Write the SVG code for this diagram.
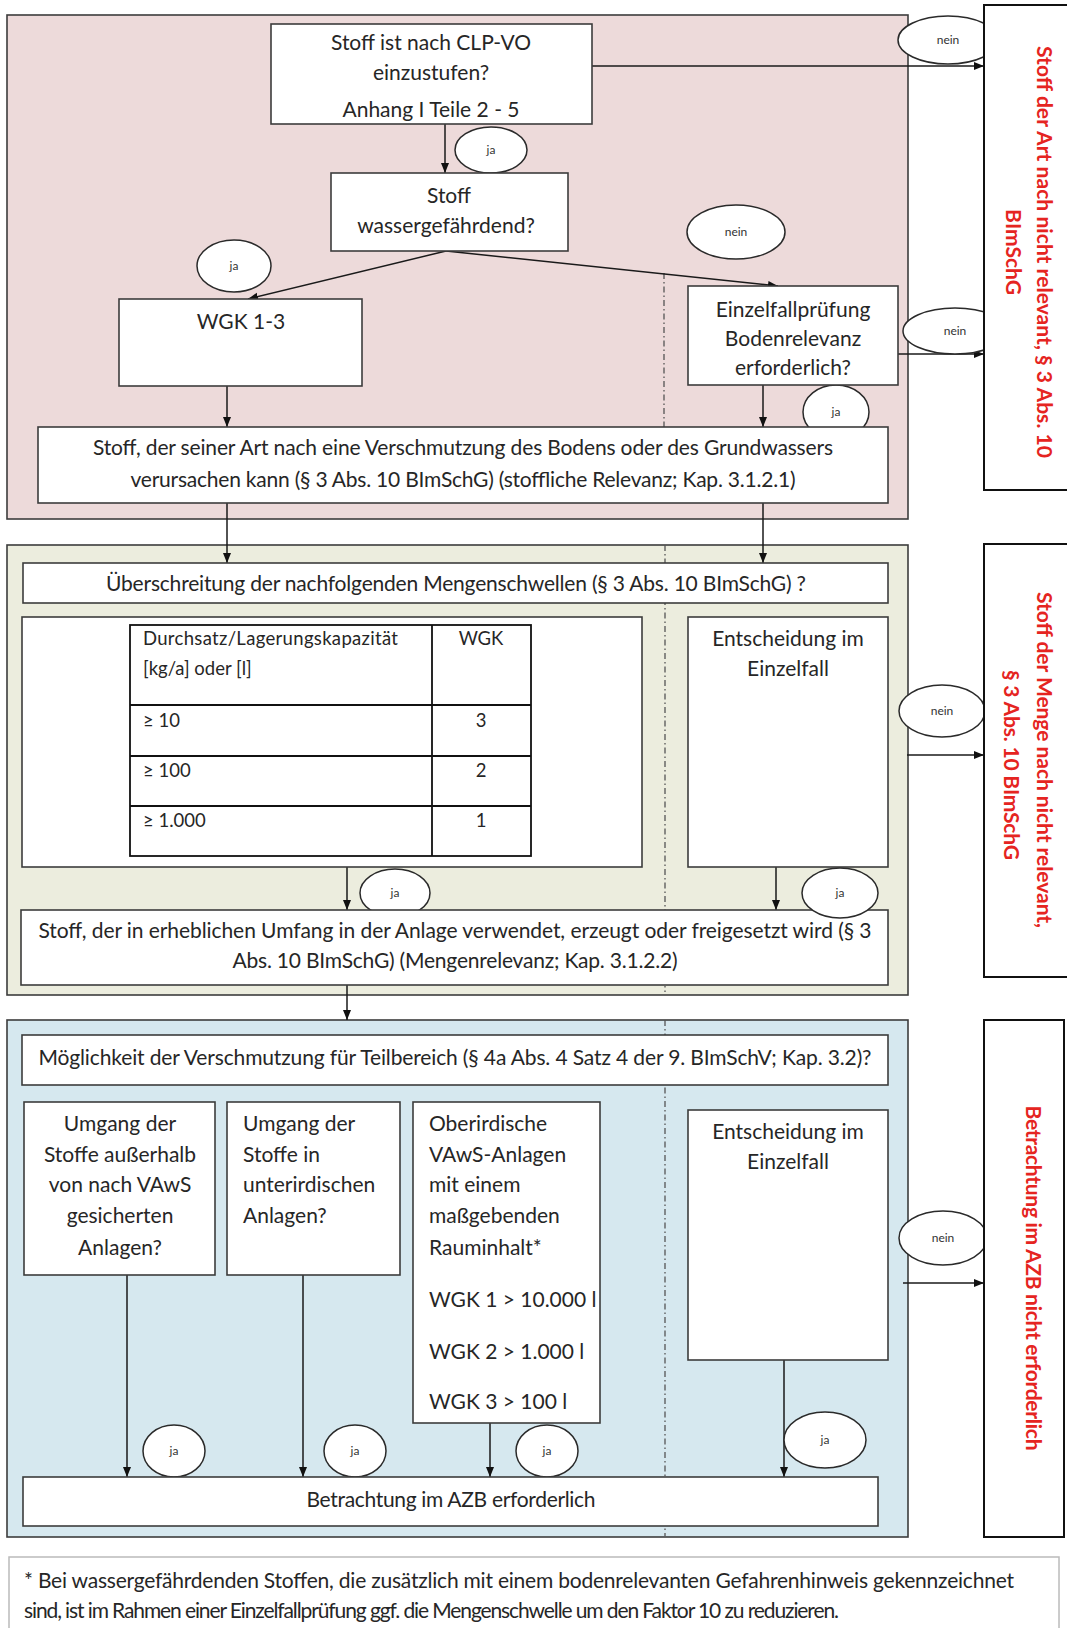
<svg xmlns="http://www.w3.org/2000/svg" width="1067" height="1628" viewBox="0 0 1067 1628">
<style>
.sec{stroke:#3c3c3c;stroke-width:1.6}
.box{fill:#fff;stroke:#3c3c3c;stroke-width:1.6}
.tbl{fill:#fff;stroke:#111;stroke-width:1.8}
.panel{fill:#fff;stroke:#111;stroke-width:2}
.t{font-family:Lato,"Liberation Sans",sans-serif;font-size:21px;fill:#262626}
.c{text-anchor:middle}
.ts{font-size:18.5px}
.lbl{font-family:Lato,"Liberation Sans",sans-serif;font-size:12px;fill:#333;text-anchor:middle}
.ell{fill:#fff;stroke:#2a2a2a;stroke-width:1.5}
.red{font-family:Lato,"Liberation Sans",sans-serif;font-weight:bold;font-size:21px;fill:#e52421;text-anchor:middle}
.con{stroke:#1a1a1a;stroke-width:1.5;fill:none;marker-end:url(#ah)}
.dash{stroke:#555;stroke-width:1.3;stroke-dasharray:6 3 1.5 3;fill:none}
</style>
<defs>
<marker id="ah" viewBox="0 0 10 10" refX="10" refY="5" markerWidth="10" markerHeight="10" orient="auto" markerUnits="userSpaceOnUse">
<path d="M0,1 L10,5 L0,9 z" fill="#111"/>
</marker>
</defs>
<rect width="1067" height="1628" fill="#fff"/>

<g id="sections">
<rect id="sec-art" class="sec" x="7" y="15" width="901" height="504" fill="#eddada"/>
<rect id="sec-menge" class="sec" x="7" y="545" width="901" height="450" fill="#ecedde"/>
<rect id="sec-azb" class="sec" x="7" y="1020" width="901" height="517" fill="#d6e8ef"/>
<line class="dash" x1="664" y1="273" x2="664" y2="427"/>
<line class="dash" x1="665" y1="545" x2="665" y2="992"/>
<line class="dash" x1="665" y1="1020" x2="665" y2="1536"/>
</g>

<g id="connectors">
<path class="con" d="M445,124 L445,173"/>
<path class="con" d="M592,66 L984,66"/>
<path class="con" d="M446,251 L248,299"/>
<path class="con" d="M446,251 L778,286"/>
<path class="con" d="M898,354 L984,354"/>
<path class="con" d="M227,386 L227,427"/>
<path class="con" d="M763,385 L763,427"/>
<path class="con" d="M227,503 L227,563"/>
<path class="con" d="M763,503 L763,563"/>
<path class="con" d="M347,867 L347,910"/>
<path class="con" d="M776,867 L776,910"/>
<path class="con" d="M907,755 L984,755"/>
<path class="con" d="M347,985 L347,1020"/>
<path class="con" d="M903,1283 L984,1283"/>
<path class="con" d="M127,1275 L127,1477"/>
<path class="con" d="M303,1275 L303,1477"/>
<path class="con" d="M490,1423 L490,1477"/>
<path class="con" d="M784,1360 L784,1477"/>
</g>

<g id="labels">
<g id="l1"><ellipse class="ell" cx="948" cy="40" rx="50" ry="24"/><text class="lbl" x="948" y="44">nein</text></g>
<g id="l2"><ellipse class="ell" cx="491" cy="150" rx="36" ry="23"/><text class="lbl" x="491" y="154">ja</text></g>
<g id="l3"><ellipse class="ell" cx="234" cy="266" rx="37" ry="26"/><text class="lbl" x="234" y="270">ja</text></g>
<g id="l4"><ellipse class="ell" cx="736" cy="232" rx="49" ry="27"/><text class="lbl" x="736" y="236">nein</text></g>
<g id="l5"><ellipse class="ell" cx="955" cy="331" rx="52" ry="23"/><text class="lbl" x="955" y="335">nein</text></g>
<g id="l6"><ellipse class="ell" cx="836" cy="412" rx="33" ry="27"/><text class="lbl" x="836" y="416">ja</text></g>
<g id="l7"><ellipse class="ell" cx="942" cy="711" rx="43" ry="26"/><text class="lbl" x="942" y="715">nein</text></g>
<g id="l8"><ellipse class="ell" cx="395" cy="893" rx="35" ry="24"/><text class="lbl" x="395" y="897">ja</text></g>
<g id="l10"><ellipse class="ell" cx="943" cy="1238" rx="44" ry="27"/><text class="lbl" x="943" y="1242">nein</text></g>
<g id="l11"><ellipse class="ell" cx="174" cy="1451" rx="31" ry="26"/><text class="lbl" x="174" y="1455">ja</text></g>
<g id="l12"><ellipse class="ell" cx="355" cy="1451" rx="31" ry="26"/><text class="lbl" x="355" y="1455">ja</text></g>
<g id="l13"><ellipse class="ell" cx="547" cy="1451" rx="31" ry="26"/><text class="lbl" x="547" y="1455">ja</text></g>
<g id="l14"><ellipse class="ell" cx="825" cy="1440" rx="41" ry="28"/><text class="lbl" x="825" y="1444">ja</text></g>
</g>

<g id="n-clp">
<rect class="box" x="271" y="24" width="321" height="100"/>
<text class="t c" x="431" y="50">Stoff ist nach CLP-VO</text>
<text class="t c" x="431" y="80">einzustufen?</text>
<text class="t c" x="431" y="117">Anhang I Teile 2 - 5</text>
</g>
<g id="n-wasser">
<rect class="box" x="331" y="173" width="237" height="78"/>
<text class="t c" x="449" y="203">Stoff</text>
<text class="t c" x="446" y="233">wassergefährdend?</text>
</g>
<g id="n-wgk">
<rect class="box" x="119" y="299" width="243" height="87"/>
<text class="t c" x="241" y="329">WGK 1-3</text>
</g>
<g id="n-einzel1">
<rect class="box" x="688" y="286" width="210" height="99"/>
<text class="t c" x="793" y="317">Einzelfallprüfung</text>
<text class="t c" x="793" y="346">Bodenrelevanz</text>
<text class="t c" x="793" y="375">erforderlich?</text>
</g>
<g id="n-art">
<rect class="box" x="38" y="427" width="850" height="76"/>
<text class="t c" x="463" y="455" textLength="740">Stoff, der seiner Art nach eine Verschmutzung des Bodens oder des Grundwassers</text>
<text class="t c" x="463" y="487" textLength="665">verursachen kann (§ 3 Abs. 10 BImSchG) (stoffliche Relevanz; Kap. 3.1.2.1)</text>
</g>

<g id="n-ueber">
<rect class="box" x="23" y="563" width="865" height="40"/>
<text class="t c" x="456" y="591" textLength="700">Überschreitung der nachfolgenden Mengenschwellen (§ 3 Abs. 10 BImSchG) ?</text>
</g>
<g id="n-tabelle">
<rect class="box" x="22" y="617" width="620" height="250"/>
<rect class="tbl" x="130" y="625" width="401" height="231"/>
<path d="M432,625 V856 M130,705 H531 M130,756 H531 M130,806 H531" stroke="#111" stroke-width="1.8" fill="none"/>
<text class="t ts" x="143" y="645" textLength="255">Durchsatz/Lagerungskapazität</text>
<text class="t ts" x="143" y="675">[kg/a] oder [l]</text>
<text class="t ts c" x="481" y="645">WGK</text>
<text class="t ts" x="143" y="727">≥ 10</text>
<text class="t ts c" x="481" y="727">3</text>
<text class="t ts" x="143" y="777">≥ 100</text>
<text class="t ts c" x="481" y="777">2</text>
<text class="t ts" x="143" y="827">≥ 1.000</text>
<text class="t ts c" x="481" y="827">1</text>
</g>
<g id="n-einzel2">
<rect class="box" x="688" y="617" width="200" height="250"/>
<text class="t c" x="788" y="646">Entscheidung im</text>
<text class="t c" x="788" y="676">Einzelfall</text>
</g>
<g id="n-menge">
<rect class="box" x="21" y="910" width="867" height="75"/>
<text class="t c" x="455" y="938" textLength="833">Stoff, der in erheblichen Umfang in der Anlage verwendet, erzeugt oder freigesetzt wird (§ 3</text>
<text class="t c" x="455" y="968" textLength="445">Abs. 10 BImSchG) (Mengenrelevanz; Kap. 3.1.2.2)</text>
</g>
<g id="l9"><ellipse class="ell" cx="840" cy="893" rx="38" ry="25"/><text class="lbl" x="840" y="897">ja</text></g>

<g id="n-moegl">
<rect class="box" x="22" y="1035" width="866" height="50"/>
<text class="t c" x="455" y="1065" textLength="833">Möglichkeit der Verschmutzung für Teilbereich (§ 4a Abs. 4 Satz 4 der 9. BImSchV; Kap. 3.2)?</text>
</g>
<g id="n-ausserhalb">
<rect class="box" x="24" y="1102" width="191" height="173"/>
<text class="t c" x="120" y="1131">Umgang der</text>
<text class="t c" x="120" y="1162">Stoffe außerhalb</text>
<text class="t c" x="120" y="1192">von nach VAwS</text>
<text class="t c" x="120" y="1223">gesicherten</text>
<text class="t c" x="120" y="1255">Anlagen?</text>
</g>
<g id="n-unterirdisch">
<rect class="box" x="227" y="1102" width="173" height="173"/>
<text class="t" x="243" y="1131">Umgang der</text>
<text class="t" x="243" y="1162">Stoffe in</text>
<text class="t" x="243" y="1192">unterirdischen</text>
<text class="t" x="243" y="1223">Anlagen?</text>
</g>
<g id="n-oberirdisch">
<rect class="box" x="413" y="1102" width="187" height="321"/>
<text class="t" x="429" y="1131">Oberirdische</text>
<text class="t" x="429" y="1162">VAwS-Anlagen</text>
<text class="t" x="429" y="1192">mit einem</text>
<text class="t" x="429" y="1223">maßgebenden</text>
<text class="t" x="429" y="1255">Rauminhalt*</text>
<text class="t" x="429" y="1307">WGK 1 &gt; 10.000 l</text>
<text class="t" x="429" y="1359">WGK 2 &gt; 1.000 l</text>
<text class="t" x="429" y="1409">WGK 3 &gt; 100 l</text>
</g>
<g id="n-einzel3">
<rect class="box" x="688" y="1110" width="200" height="250"/>
<text class="t c" x="788" y="1139">Entscheidung im</text>
<text class="t c" x="788" y="1169">Einzelfall</text>
</g>
<g id="n-azb">
<rect class="box" x="23" y="1477" width="855" height="49"/>
<text class="t c" x="451" y="1507" textLength="289">Betrachtung im AZB erforderlich</text>
</g>

<g id="p-art">
<rect class="panel" x="984" y="5" width="100" height="485"/>
<text class="red" transform="translate(1037,252) rotate(90)" textLength="412">Stoff der Art nach nicht relevant, § 3 Abs. 10</text>
<text class="red" transform="translate(1006,252) rotate(90)">BImSchG</text>
</g>
<g id="p-menge">
<rect class="panel" x="984" y="544" width="100" height="433"/>
<text class="red" transform="translate(1037,760) rotate(90)" textLength="336">Stoff der Menge nach nicht relevant,</text>
<text class="red" transform="translate(1004,765) rotate(90)" textLength="190">§ 3 Abs. 10 BImSchG</text>
</g>
<g id="p-azb">
<rect class="panel" x="984" y="1020" width="80" height="517"/>
<text class="red" transform="translate(1026,1278) rotate(90)" textLength="345">Betrachtung im AZB nicht erforderlich</text>
</g>

<g id="footnote">
<rect x="9" y="1557" width="1050" height="90" fill="#fff" stroke="#bbb" stroke-width="1.5"/>
<text class="t" x="24" y="1588" textLength="990">* Bei wassergefährdenden Stoffen, die zusätzlich mit einem bodenrelevanten Gefahrenhinweis gekennzeichnet</text>
<text class="t" x="24" y="1618" textLength="815">sind, ist im Rahmen einer Einzelfallprüfung ggf. die Mengenschwelle um den Faktor 10 zu reduzieren.</text>
</g>
</svg>
